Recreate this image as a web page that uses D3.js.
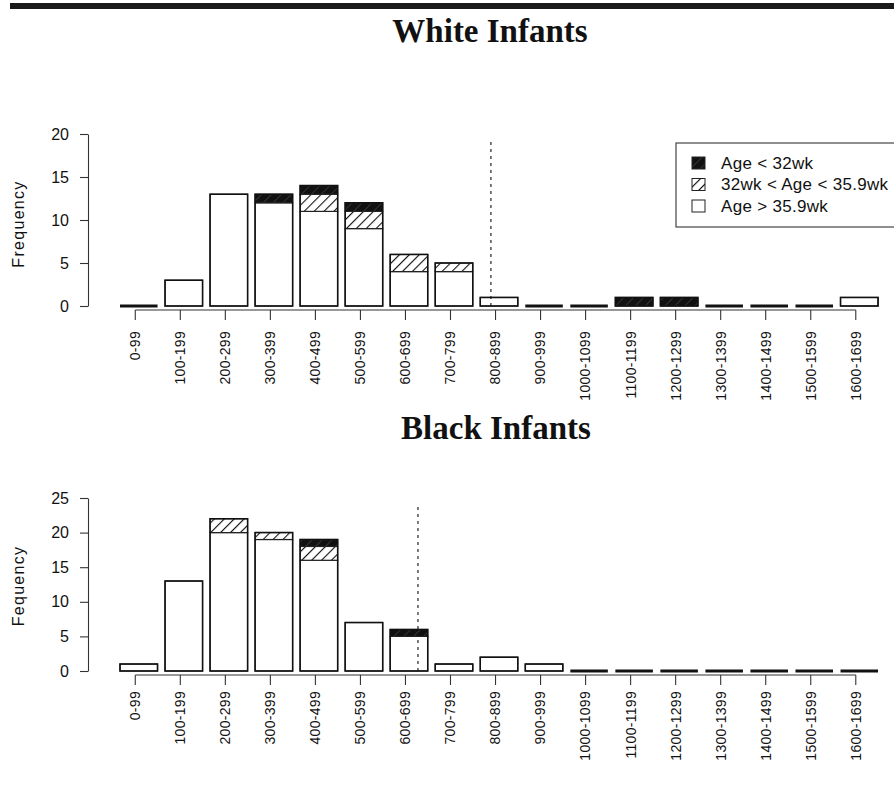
<!DOCTYPE html>
<html lang="en">
<head>
    <meta charset="UTF-8">
    <title>White and Black Infants</title>
    <script src="https://d3js.org/d3.v7.min.js"></script>
    <style>
        body { margin: 0; background: #fff; }
        svg text { font-family: "Liberation Sans", Arial, sans-serif; fill: #111; }
        .title { font-family: "Liberation Serif", "Times New Roman", serif !important; font-weight: bold; }
    </style>
</head>
<body>
<svg width="894" height="792"></svg>
<script>
// weight bins (grams)
var bins = ["0-99","100-199","200-299","300-399","400-499","500-599","600-699","700-799","800-899",
            "900-999","1000-1099","1100-1199","1200-1299","1300-1399","1400-1499","1500-1599","1600-1699"];

// White infants: counts by gestational age group
var whiteTerm    = [0, 3, 13, 12, 11, 9, 4, 4, 1, 0, 0, 0, 0, 0, 0, 0, 1];   // Age > 35.9wk
var whiteMid     = [0, 0, 0, 0, 2, 2, 2, 1, 0, 0, 0, 0, 0, 0, 0, 0, 0];      // 32wk < Age < 35.9wk
var whiteVeryPre = [0, 0, 0, 1, 1, 1, 0, 0, 0, 0, 0, 1, 1, 0, 0, 0, 0];      // Age < 32wk

// Black infants
var blackTerm    = [1, 13, 20, 19, 16, 7, 5, 1, 2, 1, 0, 0, 0, 0, 0, 0, 0];
var blackMid     = [0, 0, 2, 1, 2, 0, 0, 0, 0, 0, 0, 0, 0, 0, 0, 0, 0];
var blackVeryPre = [0, 0, 0, 0, 1, 0, 1, 0, 0, 0, 0, 0, 0, 0, 0, 0, 0];

var whiteTicks = [0, 5, 10, 15, 20];
var blackTicks = [0, 5, 10, 15, 20, 25];

// dashed reference lines, in grams
var whiteCutoff = 832;
var blackCutoff = 670;

var legendLabels = ["Age < 32wk", "32wk < Age < 35.9wk", "Age > 35.9wk"];

var svg = d3.select("svg");

// hatch patterns
var defs = svg.append("defs");
defs.append("pattern")
    .attr("id", "hatch")
    .attr("patternUnits", "userSpaceOnUse")
    .attr("width", 7).attr("height", 7)
    .attr("patternTransform", "rotate(45)")
    .call(function(p) {
        p.append("rect").attr("width", 7).attr("height", 7).attr("fill", "#fff");
        p.append("line").attr("x1", 0).attr("y1", 0).attr("x2", 0).attr("y2", 7)
            .attr("stroke", "#111").attr("stroke-width", 2.2);
    });
defs.append("pattern")
    .attr("id", "hatchDark")
    .attr("patternUnits", "userSpaceOnUse")
    .attr("width", 7).attr("height", 7)
    .attr("patternTransform", "rotate(45)")
    .call(function(p) {
        p.append("rect").attr("width", 7).attr("height", 7).attr("fill", "#111");
        p.append("line").attr("x1", 0).attr("y1", 0).attr("x2", 0).attr("y2", 7)
            .attr("stroke", "#555").attr("stroke-width", 1);
    });

// top rule
svg.append("rect").attr("x", 10).attr("y", 3).attr("width", 884).attr("height", 6).attr("fill", "#1a1a1a");

var xs = d3.scaleBand().domain(bins).range([116.25, 881.8]).paddingInner(1/6).paddingOuter(1/12);
var gs = d3.scaleLinear().domain([0, 1700]).range([116.25, 881.8]);
var b = xs.bandwidth();

function drawPanel(opt) {
    var ys = d3.scaleLinear().domain([0, opt.ticks[opt.ticks.length - 1]]).range([opt.y0, opt.y1]);
    var g = svg.append("g");

    var rows = bins.map(function(d, i) {
        return {bin: d, term: opt.term[i], mid: opt.mid[i], pre: opt.pre[i],
                total: opt.term[i] + opt.mid[i] + opt.pre[i]};
    });

    // stacked segments: term (white), mid (hatched), very preterm (black)
    var segs = [];
    rows.forEach(function(r) {
        if (r.term > 0) segs.push({bin: r.bin, lo: 0, hi: r.term, fill: "#fff"});
        if (r.mid > 0) segs.push({bin: r.bin, lo: r.term, hi: r.term + r.mid, fill: "url(#hatch)"});
        if (r.pre > 0) segs.push({bin: r.bin, lo: r.term + r.mid, hi: r.total, fill: "url(#hatchDark)"});
    });

    g.selectAll("rect.seg")
        .data(segs)
        .enter()
        .append("rect")
        .attr("class", "seg")
        .attr("x", function(d) { return xs(d.bin); })
        .attr("width", b)
        .attr("y", function(d) { return ys(d.hi); })
        .attr("height", function(d) { return ys(d.lo) - ys(d.hi); })
        .attr("fill", function(d) { return d.fill; })
        .attr("stroke", "#222")
        .attr("stroke-width", 1.2);

    // outlines (zero bars come out as a flat line)
    g.selectAll("path.outline")
        .data(rows)
        .enter()
        .append("path")
        .attr("class", "outline")
        .attr("d", function(d) {
            var x = xs(d.bin), yb = ys(0), yt = ys(d.total);
            return "M" + x + "," + yb + "H" + (x + b) + "V" + yt + "H" + x + "Z";
        })
        .attr("fill", "none")
        .attr("stroke", "#111")
        .attr("stroke-width", function(d) { return d.total == 0 ? 2.8 : 1.5; });

    // dashed line
    g.append("line")
        .attr("x1", gs(opt.cutoff)).attr("x2", gs(opt.cutoff))
        .attr("y1", ys(0)).attr("y2", opt.dashTop)
        .attr("stroke", "#111").attr("stroke-width", 1.1)
        .attr("stroke-dasharray", "3,4");

    // y axis
    var ya = g.append("g")
        .attr("transform", "translate(88,0)")
        .call(d3.axisLeft(ys).tickValues(opt.ticks).tickSize(8).tickPadding(11).tickSizeOuter(0));
    ya.selectAll("path, line").attr("stroke", "#333").attr("stroke-width", 1.1);
    ya.selectAll("text").style("font-size", "16px").attr("font-family", null);

    g.append("text")
        .attr("transform", "translate(24," + opt.labelY + ") rotate(-90)")
        .attr("text-anchor", "middle")
        .style("font-size", "16px")
        .style("letter-spacing", "1.3px")
        .text(opt.ylabel);

    // x axis, labels perpendicular
    var xa = g.append("g")
        .attr("transform", "translate(-3.5," + opt.axisY + ")")
        .call(d3.axisBottom(xs).tickSize(10).tickSizeOuter(0));
    xa.select(".domain").remove();
    xa.append("line")
        .attr("x1", xs(bins[0]) + b / 2).attr("x2", xs(bins[bins.length - 1]) + b / 2)
        .attr("stroke", "#333").attr("stroke-width", 1.1);
    xa.selectAll("line").attr("stroke", "#333").attr("stroke-width", 1.1);
    xa.selectAll(".tick text")
        .attr("transform", "rotate(-90)")
        .attr("text-anchor", "end")
        .attr("x", -opt.labelGap)
        .attr("y", 0)
        .attr("dy", "0.35em")
        .attr("font-family", null)
        .style("font-size", "14px")
        .style("letter-spacing", "0.3px");

    svg.append("text")
        .attr("class", "title")
        .attr("x", opt.titleX)
        .attr("y", opt.titleY)
        .attr("text-anchor", "middle")
        .style("font-size", "33px")
        .text(opt.title);
}

drawPanel({term: whiteTerm, mid: whiteMid, pre: whiteVeryPre, ticks: whiteTicks,
           y0: 306, y1: 134, axisY: 310, labelGap: 21, dashTop: 140, cutoff: whiteCutoff,
           ylabel: "Frequency", labelY: 224, title: "White Infants", titleX: 490, titleY: 42});

drawPanel({term: blackTerm, mid: blackMid, pre: blackVeryPre, ticks: blackTicks,
           y0: 671, y1: 498, axisY: 675, labelGap: 16, dashTop: 503, cutoff: blackCutoff,
           ylabel: "Fequency", labelY: 586, title: "Black Infants", titleX: 496, titleY: 439});

// legend (box runs off the right edge)
var lg = svg.append("g").attr("transform", "translate(676,143)");
lg.append("rect").attr("width", 240).attr("height", 84)
    .attr("fill", "#fff").attr("stroke", "#333").attr("stroke-width", 1.1);
var lfill = ["url(#hatchDark)", "url(#hatch)", "#fff"];
lg.selectAll("rect.key")
    .data(legendLabels)
    .enter()
    .append("rect")
    .attr("class", "key")
    .attr("x", 16)
    .attr("y", function(d, i) { return 14 + i * 21.5; })
    .attr("width", 13).attr("height", 12)
    .attr("fill", function(d, i) { return lfill[i]; })
    .attr("stroke", "#222").attr("stroke-width", 1);
lg.selectAll("text")
    .data(legendLabels)
    .enter()
    .append("text")
    .attr("x", 45)
    .attr("y", function(d, i) { return 20 + i * 21.5; })
    .attr("dy", "0.35em")
    .style("font-size", "17px")
    .style("letter-spacing", "0.3px")
    .text(function(d) { return d; });
</script>
</body>
</html>
